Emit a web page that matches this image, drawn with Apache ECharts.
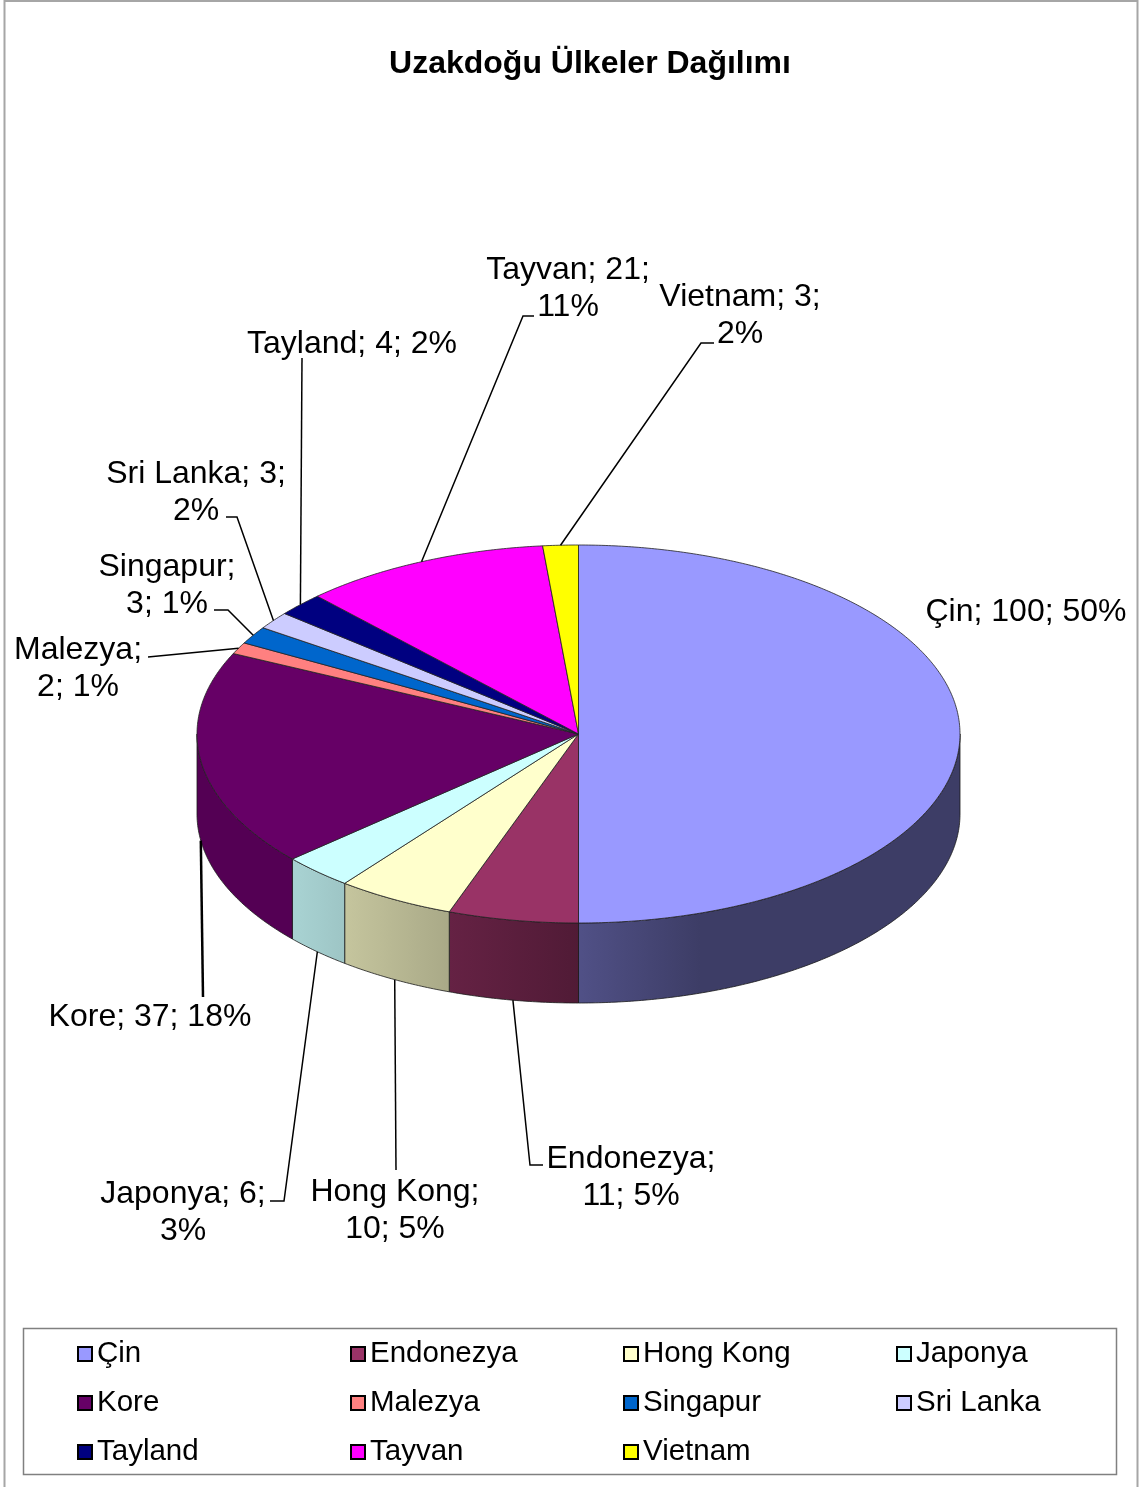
<!DOCTYPE html>
<html><head><meta charset="utf-8">
<script src="https://cdn.jsdelivr.net/npm/echarts@6/dist/echarts.min.js"></script>
<style>html,body{margin:0;padding:0;background:#fff}#c{width:1139px;height:1487px}</style>
</head><body><div id="c"></div>
<script>
// ---- data ----
const categories = ['Çin','Endonezya','Hong Kong','Japonya','Kore','Malezya','Singapur','Sri Lanka','Tayland','Tayvan','Vietnam'];
const values = [100, 11, 10, 6, 37, 2, 3, 3, 4, 21, 3];
const percents = [50, 5, 5, 3, 18, 1, 1, 2, 2, 11, 2];
const colors = ['#9999FF','#993366','#FFFFCC','#CCFFFF','#660066','#FF8080','#0066CC','#CCCCFF','#000080','#FF00FF','#FFFF00'];
const titleText = 'Uzakdoğu Ülkeler Dağılımı';

// ---- layout (positions / styles) ----
const F = "'Liberation Sans', Arial, sans-serif";
const PIE = {cx: 578.5, cy: 734, rx: 381.5, ry: 189, depth: 80};
const labelWrap = ['none','name','name','value','none','name','name','value','none','value','value'];
const labelPos = [[1026,612],[631,1159],[395,1192],[183,1194],[150,1017],[78,650],[167,567],[196,474],[352,344],[568,270],[740,297]];
const leaderPts = [[], [[530,1165],[543,1165]], [[396,1170]], [[284,1201],[270,1201]], [[203,997]], [[148,657]],
  [[228,610],[214,610]], [[237,517],[226,517]], [[302,358]], [[523,316],[534,316]], [[701,343],[714,343]]];
const LINE_H = 37;

const total = values.reduce((a, b) => a + b, 0);
function angles(i) {
  let s = 0; for (let k = 0; k < i; k++) s += values[k];
  return [s / total * 360, (s + values[i]) / total * 360];
}
function pt(th, dy) {
  const r = th * Math.PI / 180;
  return [PIE.cx + PIE.rx * Math.sin(r), PIE.cy - PIE.ry * Math.cos(r) + (dy || 0)];
}
function arc(a0, a1, dy) {
  const n = Math.max(2, Math.ceil((a1 - a0) / 0.5)); const out = [];
  for (let k = 0; k <= n; k++) out.push(pt(a0 + (a1 - a0) * k / n, dy));
  return out;
}
function shade(hex, f) {
  const n = parseInt(hex.slice(1), 16);
  const r = Math.round(((n >> 16) & 255) * f), g = Math.round(((n >> 8) & 255) * f), b = Math.round((n & 255) * f);
  return 'rgb(' + r + ',' + g + ',' + b + ')';
}
function labelLines(i) {
  const n = categories[i], v = values[i], p = percents[i] + '%';
  if (labelWrap[i] === 'name') return [n + ';', v + '; ' + p];
  if (labelWrap[i] === 'value') return [n + '; ' + v + ';', p];
  return [n + '; ' + v + '; ' + p];
}

function renderItem(params, api) {
  const i = params.seriesIndex;
  const [a0, a1] = angles(i);
  const c = colors[i];
  const children = [];
  const s0 = Math.max(a0, 90), s1 = Math.min(a1, 270);
  if (s0 < s1) {
    const top = arc(s0, s1, 0), bot = arc(s0, s1, PIE.depth).reverse();
    children.push({
      type: 'polygon', z2: 1,
      shape: {points: top.concat(bot)},
      style: {
        fill: {type: 'linear', x: 300, y: 0, x2: 700, y2: 0, global: true,
          colorStops: [{offset: 0, color: shade(c, 0.82)}, {offset: 1, color: shade(c, 0.4)}]},
        stroke: '#1a1a1a', lineWidth: 0.8
      }
    });
  }
  children.push({
    type: 'polygon', z2: 5,
    shape: {points: [[PIE.cx, PIE.cy]].concat(arc(a0, a1, 0))},
    style: {fill: c, stroke: '#222', lineWidth: 0.8}
  });
  const mid = (a0 + a1) / 2;
  const front = mid > 90 && mid < 270;
  const anchor = pt(mid, front ? PIE.depth : 0);
  if (leaderPts[i].length) {
    children.push({
      type: 'polyline', z2: 8,
      shape: {points: [anchor].concat(leaderPts[i])},
      style: {stroke: '#000', lineWidth: i === 4 ? 2.5 : 1.5, fill: null}
    });
  }
  const lines = labelLines(i);
  lines.forEach((t, k) => {
    children.push({
      type: 'text', z2: 9,
      style: {text: t, x: labelPos[i][0], y: labelPos[i][1] + k * LINE_H,
        align: 'center', verticalAlign: 'middle', font: '32px ' + F, fill: '#000'}
    });
  });
  return {type: 'group', children: children};
}

const chart = echarts.init(document.getElementById('c'), null, {renderer: 'canvas'});
const legendCols = [77, 350, 623, 896];
chart.setOption({
  animation: false,
  backgroundColor: '#fff',
  color: colors,
  graphic: [
    {type: 'rect', shape: {x: 4.5, y: 1, width: 1133, height: 1495}, style: {fill: null, stroke: '#a6a6a6', lineWidth: 2}, silent: true},
    {type: 'rect', shape: {x: 23.5, y: 1328.5, width: 1093, height: 146}, style: {fill: null, stroke: '#808080', lineWidth: 1.5}, silent: true},
    {type: 'text', style: {text: titleText, x: 590, y: 64, align: 'center', verticalAlign: 'middle', font: 'bold 32px ' + F, fill: '#000'}, silent: true}
  ],
  legend: legendCols.map((x, col) => ({
    orient: 'vertical', left: x, top: 1339, padding: 0,
    data: categories.filter((_, i) => i % 4 === col),
    icon: 'rect', itemWidth: 14, itemHeight: 14, itemGap: 19,
    itemStyle: {borderColor: '#000', borderWidth: 2},
    textStyle: {fontSize: 29.5, color: '#000', fontFamily: F, lineHeight: 30},
    selectedMode: false
  })),
  series: categories.map((name, i) => ({
    type: 'custom', name: name, coordinateSystem: 'none', silent: true,
    itemStyle: {color: colors[i]},
    renderItem: renderItem,
    data: [[values[i]]]
  }))
});
</script></body></html>
